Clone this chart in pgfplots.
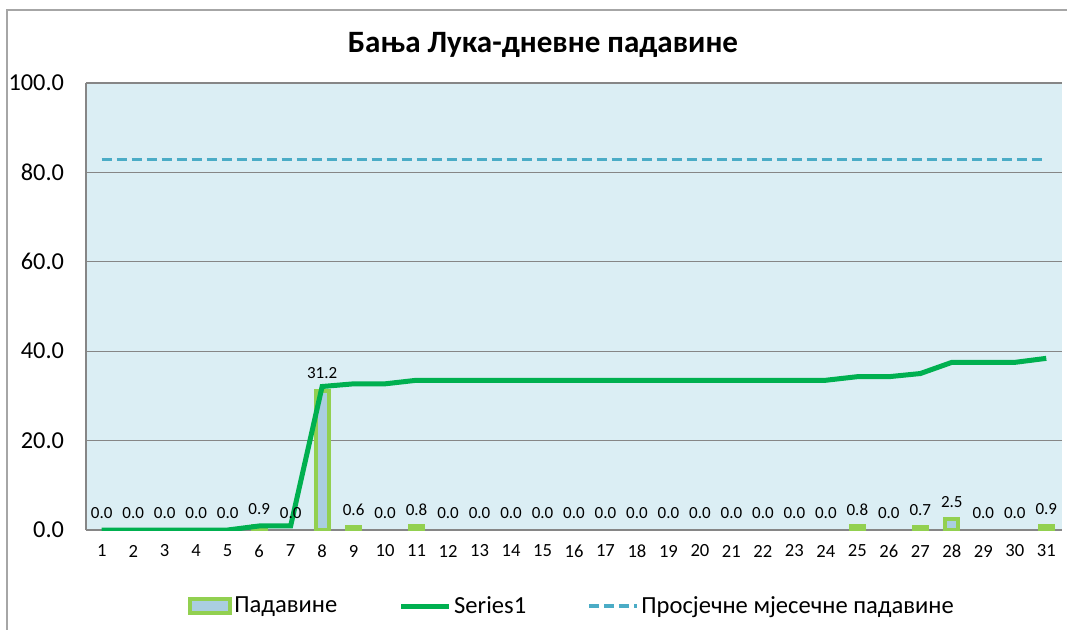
\documentclass[border=0pt]{standalone}
\usepackage{fontspec}
\setmainfont{Carlito}
\usepackage{pgfplots}
\usepackage{pgfplotstable}
\pgfplotsset{compat=1.18}

\definecolor{plotbg}{RGB}{219,238,244}
\definecolor{barblue}{RGB}{170,206,224}
\definecolor{bargreen}{RGB}{146,208,80}
\definecolor{linegreen}{RGB}{0,176,80}
\definecolor{avgblue}{RGB}{75,172,198}
\definecolor{gridgray}{RGB}{134,134,134}

\pgfplotsset{
    linelegend/.style={legend image code/.code={\draw[##1] (0bp,0bp) -- (36bp,0bp);}},
    barlegend/.style={legend image code/.code={\draw[draw=bargreen, fill=barblue, line width=3bp] (1.5bp,-5bp) rectangle (31.5bp,5.5bp);}},
}

% day, daily rain, running total
\pgfplotstableread{
day rain cum
1  0    0
2  0    0
3  0    0
4  0    0
5  0    0
6  0.9  0.9
7  0    0.9
8  31.2 32.1
9  0.6  32.7
10 0    32.7
11 0.8  33.5
12 0    33.5
13 0    33.5
14 0    33.5
15 0    33.5
16 0    33.5
17 0    33.5
18 0    33.5
19 0    33.5
20 0    33.5
21 0    33.5
22 0    33.5
23 0    33.5
24 0    33.5
25 0.8  34.3
26 0    34.3
27 0.7  35.0
28 2.5  37.5
29 0    37.5
30 0    37.5
31 0.9  38.4
}\rain

\begin{document}
\begin{tikzpicture}
\path[use as bounding box] (-64.5bp,-75bp) rectangle (735.75bp,397.5bp);
\draw[gray!70, line width=1.2bp] (-59.25bp,-120bp) -- (-59.25bp,390bp) -- (780bp,390bp);
\node[font=\bfseries\fontsize{23.4}{28}\selectfont] at (342.75bp,363.75bp) {Бања Лука-дневне падавине};

\begin{axis}[
    at={(0,0)}, anchor=south west,
    scale only axis,
    width=732bp, height=335.25bp,
    xmin=0.5, xmax=31.5,
    ymin=0, ymax=100,
    xtick={1,...,31},
    ytick={0,20,...,100},
    axis lines=left,
    axis line style={-, draw=gridgray, line width=0.8bp},
    major tick length=0pt,
    ymajorgrids,
    grid style={gridgray, line width=0.8bp},
    axis background/.style={fill=plotbg},
    /pgf/number format/assume math mode=true,
    yticklabel style={/pgf/number format/fixed, /pgf/number format/zerofill,
        /pgf/number format/precision=1,
        font=\fontsize{18.3}{22}\selectfont, anchor=east, xshift=-13bp},
    xticklabel style={font=\fontsize{14}{17}\selectfont, anchor=center, yshift=-15.75bp},
    legend style={draw=none, fill=none, at={(364.5bp,-57bp)},
        anchor=center, legend columns=-1, font=\fontsize{18.5}{22}\selectfont,
        /tikz/every even column/.append style={column sep=44bp}},
]
\addplot[ybar, bar shift=0pt, bar width=9.75bp, fill=barblue, draw=bargreen,
    line width=3bp, y filter/.expression={y==0 ? nan : y}, barlegend]
    table[x=day, y=rain] {\rain};
\addlegendentry{Падавине}

\addplot[linegreen, line width=3.75bp, mark=none, linelegend]
    table[x=day, y=cum] {\rain};
\addlegendentry{Series1}

\addplot[avgblue, line width=2.4bp, dash pattern=on 7.5bp off 3.75bp, mark=none, linelegend]
    coordinates {(1,82.8) (31,82.8)};
\addlegendentry{Просјечне мјесечне падавине}

% data labels
\addplot[draw=none, mark=none, forget plot,
    nodes near coords={\pgfmathprintnumber[fixed, zerofill, precision=1, assume math mode=true]{\pgfplotspointmeta}},
    every node near coord/.append style={font=\fontsize{12.8}{15}\selectfont, anchor=center, yshift=12.75bp, text=black}]
    table[x=day, y=rain] {\rain};
\end{axis}
\end{tikzpicture}
\end{document}
